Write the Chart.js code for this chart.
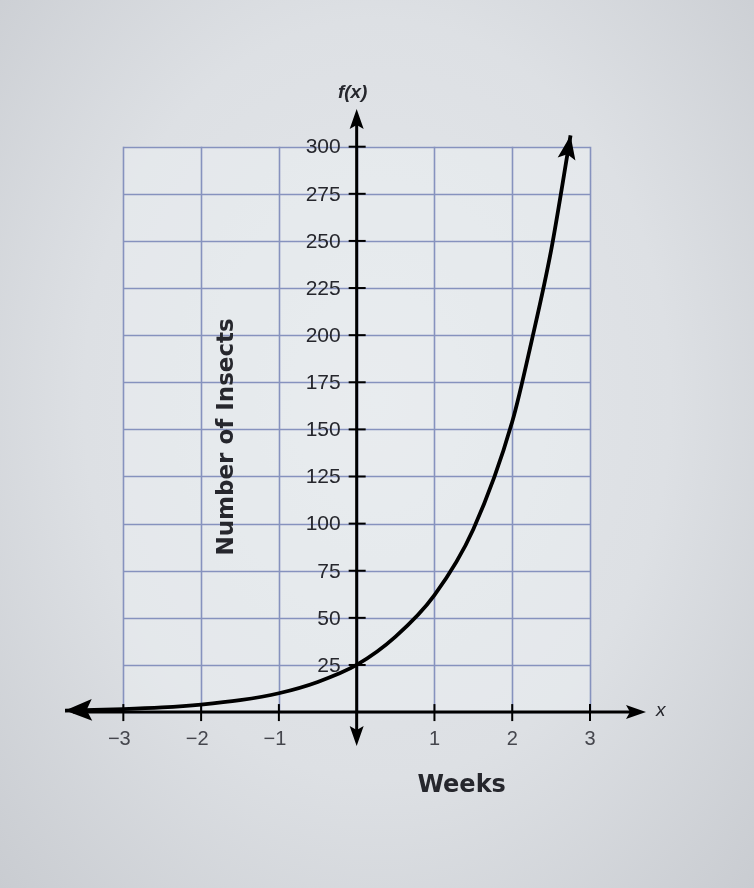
<!DOCTYPE html>
<html>
<head>
<meta charset="utf-8">
<script src="https://cdn.jsdelivr.net/npm/chart.js@4/dist/chart.umd.min.js"></script>
<style>
  html, body { margin: 0; padding: 0; }
  body {
    width: 754px; height: 888px; overflow: hidden;
    background: radial-gradient(ellipse at 50% 45%, #e4e7eb 0%, #dde0e4 55%, #c9ccd1 100%);
  }
  #wrap { position: relative; width: 754px; height: 888px; }
</style>
</head>
<body>
<div id="wrap"><canvas id="chart" width="754" height="888"></canvas></div>
<script>
// data
const weeks = [-3.75, -3, -2.5, -2, -1.5, -1, -0.5, 0, 0.5, 1, 1.5, 2, 2.25, 2.5, 2.75];
const insects = [0.8, 1.6, 2.5, 4, 6.3, 10, 16, 25, 40, 62, 97, 154, 197, 245, 306];

const xTicks = [-3, -2, -1, 1, 2, 3];
const yTicks = [25, 50, 75, 100, 125, 150, 175, 200, 225, 250, 275, 300];
const gridX = [-3, -2, -1, 0, 1, 2, 3];
const gridY = [0, 25, 50, 75, 100, 125, 150, 175, 200, 225, 250, 275, 300];

const xTitle = 'Weeks';
const yTitle = 'Number of Insects';

const TEXT = '#26272d';
const GRID = '#8692be';

function arrow(ctx, x, y, ang, len, half) {
    ctx.save();
    ctx.translate(x, y);
    ctx.rotate(ang);
    ctx.beginPath();
    ctx.moveTo(0, 0);
    ctx.lineTo(-len, -half);
    ctx.lineTo(-len * 0.8, 0);
    ctx.lineTo(-len, half);
    ctx.closePath();
    ctx.fillStyle = '#000';
    ctx.fill();
    ctx.restore();
}

// grid, axes and labels drawn from the chart's own scales
const graphPaper = {
    id: 'graphPaper',
    beforeDatasetsDraw(chart) {
        const ctx = chart.ctx;
        const xs = chart.scales.x, ys = chart.scales.y;
        const gx0 = xs.getPixelForValue(gridX[0]), gx1 = xs.getPixelForValue(gridX[gridX.length - 1]);
        const gy0 = ys.getPixelForValue(gridY[0]), gy1 = ys.getPixelForValue(gridY[gridY.length - 1]);

        ctx.save();
        ctx.fillStyle = 'rgba(238, 241, 245, 0.45)';
        ctx.fillRect(gx0, gy1, gx1 - gx0, gy0 - gy1);

        ctx.strokeStyle = GRID;
        ctx.lineWidth = 1.6;
        gridX.forEach(v => {
            const p = Math.round(xs.getPixelForValue(v)) + 0.5;
            ctx.beginPath(); ctx.moveTo(p, gy1); ctx.lineTo(p, gy0); ctx.stroke();
        });
        gridY.forEach(v => {
            const p = Math.round(ys.getPixelForValue(v)) + 0.5;
            ctx.beginPath(); ctx.moveTo(gx0, p); ctx.lineTo(gx1, p); ctx.stroke();
        });

        // axes
        const ox = xs.getPixelForValue(0), oy = ys.getPixelForValue(0);
        const {left, right, top, bottom} = chart.chartArea;
        ctx.strokeStyle = '#000';
        ctx.lineWidth = 3;
        ctx.beginPath(); ctx.moveTo(left + 8, oy); ctx.lineTo(right - 10, oy); ctx.stroke();
        ctx.beginPath(); ctx.moveTo(ox, top + 10); ctx.lineTo(ox, bottom - 10); ctx.stroke();
        arrow(ctx, right, oy, 0, 20, 7);
        arrow(ctx, ox, top, -Math.PI / 2, 20, 7);
        arrow(ctx, ox, bottom, Math.PI / 2, 20, 7);

        // tick marks
        ctx.lineWidth = 2;
        xTicks.forEach(v => {
            const p = xs.getPixelForValue(v);
            ctx.beginPath(); ctx.moveTo(p, oy - 8); ctx.lineTo(p, oy + 9); ctx.stroke();
        });
        yTicks.forEach(v => {
            const p = ys.getPixelForValue(v);
            ctx.beginPath(); ctx.moveTo(ox - 8, p); ctx.lineTo(ox + 9, p); ctx.stroke();
        });

        // tick labels
        ctx.fillStyle = '#45464d';
        ctx.font = '20px "Liberation Sans", Arial, sans-serif';
        ctx.textAlign = 'center';
        ctx.textBaseline = 'middle';
        xTicks.forEach(v => {
            ctx.fillText(v < 0 ? '\u2212' + Math.abs(v) : String(v), xs.getPixelForValue(v) - (v < 0 ? 4 : 0), oy + 27);
        });
        ctx.fillStyle = TEXT;
        ctx.font = '21px "Liberation Sans", Arial, sans-serif';
        ctx.textAlign = 'right';
        yTicks.forEach(v => {
            ctx.fillText(String(v), ox - 16, ys.getPixelForValue(v) + 1);
        });

        // axis names
        ctx.font = 'italic bold 19px "Liberation Sans", Arial, sans-serif';
        ctx.textAlign = 'center';
        ctx.fillText('f(x)', ox - 4, top - 16);
        ctx.font = 'italic 19px "Liberation Sans", Arial, sans-serif';
        ctx.textAlign = 'left';
        ctx.fillText('x', right + 10, oy - 1);

        ctx.font = 'bold 24px "DejaVu Sans", Verdana, sans-serif';
        ctx.textAlign = 'center';
        ctx.fillText(xTitle, xs.getPixelForValue(1.35), oy + 74);

        ctx.save();
        ctx.translate(xs.getPixelForValue(-1.67), ys.getPixelForValue(146));
        ctx.rotate(-Math.PI / 2);
        ctx.font = 'bold 23px "DejaVu Sans", Verdana, sans-serif';
        ctx.fillText(yTitle, 0, 0);
        ctx.restore();
        ctx.restore();
    },
    afterDatasetsDraw(chart) {
        const meta = chart.getDatasetMeta(0);
        const pts = meta.data;
        const ctx = chart.ctx;
        const a = pts[0], b = pts[1];
        arrow(ctx, a.x, a.y, Math.atan2(a.y - b.y, a.x - b.x), 27, 11);
        const c = pts[pts.length - 1], d = pts[pts.length - 2];
        arrow(ctx, c.x, c.y, Math.atan2(c.y - d.y, c.x - d.x), 24, 9);
    }
};

new Chart(document.getElementById('chart'), {
    type: 'scatter',
    data: {
        datasets: [{
            data: weeks.map((w, i) => ({x: w, y: insects[i]})),
            showLine: true,
            borderColor: '#000',
            borderWidth: 3.8,
            pointRadius: 0,
            cubicInterpolationMode: 'monotone',
            fill: false
        }]
    },
    options: {
        responsive: false,
        animation: false,
        layout: {
            padding: {left: 65, right: 108, top: 109, bottom: 142}
        },
        plugins: {
            legend: {display: false},
            tooltip: {enabled: false}
        },
        scales: {
            x: {type: 'linear', min: -3.75, max: 3.72, display: false},
            y: {type: 'linear', min: -18, max: 320, display: false}
        }
    },
    plugins: [graphPaper]
});
</script>
</body>
</html>
